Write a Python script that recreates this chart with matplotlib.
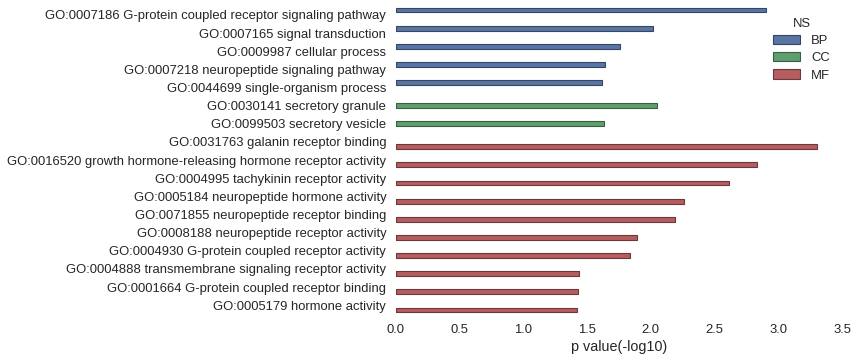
import matplotlib
matplotlib.use("Agg")
import matplotlib.pyplot as plt
import numpy as np
import seaborn as sns
from matplotlib.patches import Patch

plt.rcParams['font.family'] = ['Liberation Sans', 'DejaVu Sans']

terms = [
    "GO:0007186 G-protein coupled receptor signaling pathway",
    "GO:0007165 signal transduction",
    "GO:0009987 cellular process",
    "GO:0007218 neuropeptide signaling pathway",
    "GO:0044699 single-organism process",
    "GO:0030141 secretory granule",
    "GO:0099503 secretory vesicle",
    "GO:0031763 galanin receptor binding",
    "GO:0016520 growth hormone-releasing hormone receptor activity",
    "GO:0004995 tachykinin receptor activity",
    "GO:0005184 neuropeptide hormone activity",
    "GO:0071855 neuropeptide receptor binding",
    "GO:0008188 neuropeptide receptor activity",
    "GO:0004930 G-protein coupled receptor activity",
    "GO:0004888 transmembrane signaling receptor activity",
    "GO:0001664 G-protein coupled receptor binding",
    "GO:0005179 hormone activity",
]
ns = ["BP"] * 5 + ["CC"] * 2 + ["MF"] * 10
pvalues = [2.90, 2.02, 1.76, 1.64, 1.62,
           2.05, 1.63,
           3.30, 2.83, 2.61, 2.26, 2.19, 1.89, 1.84, 1.44, 1.43, 1.42]
ns_levels = ["BP", "CC", "MF"]

base = {"BP": "#4C72B0", "CC": "#55A868", "MF": "#C44E52"}
face = {k: sns.desaturate(v, 0.75) for k, v in base.items()}
edge = {k: tuple(np.array(matplotlib.colors.to_rgb(c)) * 0.6) for k, c in face.items()}

fig = plt.figure(figsize=(8.58, 3.62), dpi=100)
ax = fig.add_axes([0.4615, 0.132, 0.9814 - 0.4615, 0.984 - 0.132])

w = 0.8 / 3
offsets = {"BP": -w, "CC": 0.0, "MF": w}
for i, (t, n, v) in enumerate(zip(terms, ns, pvalues)):
    ax.barh(i + offsets[n], v, height=w, color=face[n], edgecolor=edge[n], linewidth=0.8)

ax.set_ylim(len(terms) - 0.5, -0.5)
ax.set_xlim(0, 3.5)
ax.set_yticks(range(len(terms)))
ax.set_yticklabels(terms)
ax.set_xticks(np.arange(0, 3.51, 0.5))
ax.set_xticklabels([f"{x:.1f}" for x in np.arange(0, 3.51, 0.5)])
ax.tick_params(axis='both', length=0, labelsize=9.4, labelcolor="#262626", pad=7)
ax.set_xlabel("p value(-log10)", fontsize=10.4, color="#262626", labelpad=3)
for s in ax.spines.values():
    s.set_visible(False)

handles = [Patch(facecolor=face[k], edgecolor=edge[k], linewidth=0.8, label=k) for k in ns_levels]
leg = ax.legend(handles=handles, title="NS", loc="upper right", frameon=False,
                fontsize=9.4, title_fontsize=9.4, bbox_to_anchor=(1.0, 1.0),
                handlelength=2.0, handleheight=0.7, labelspacing=0.4,
                handletextpad=0.9, alignment="center")
for txt in leg.get_texts():
    txt.set_color("#262626")
leg.get_title().set_color("#262626")

fig.savefig("out.png", dpi=100, facecolor="white")
